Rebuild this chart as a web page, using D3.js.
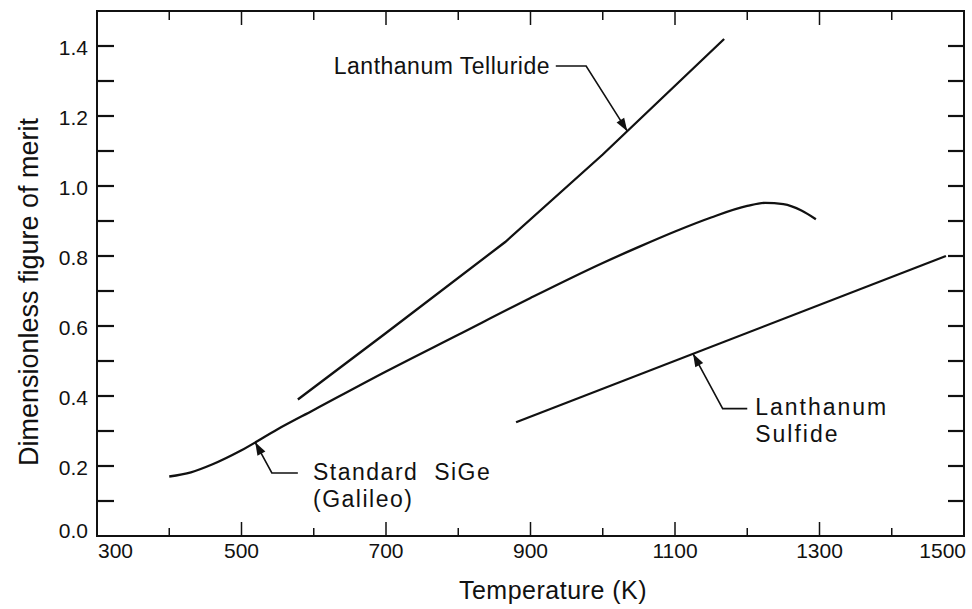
<!DOCTYPE html>
<html>
<head>
<meta charset="utf-8">
<script src="https://cdn.jsdelivr.net/npm/d3@7"></script>
<style>
  body { margin: 0; background: #fff; }
  text { font-family: "Liberation Sans", Arial, sans-serif; fill: #111; }
</style>
</head>
<body>
<div id="chart"></div>
<script>
// values
const siGeTemp = [400, 430, 460, 500, 550, 600, 700, 800, 900, 1000, 1050, 1100, 1150, 1200, 1225, 1250, 1275, 1295];
const siGeZT   = [0.17, 0.182, 0.205, 0.245, 0.305, 0.36, 0.47, 0.575, 0.68, 0.78, 0.826, 0.87, 0.91, 0.943, 0.952, 0.948, 0.93, 0.905];

const laTeTemp = [578, 700, 865, 1000, 1168];
const laTeZT   = [0.39, 0.58, 0.84, 1.09, 1.42];

const laSTemp = [880, 1475];
const laSZT   = [0.325, 0.80];

const xTicks  = d3.range(300, 1501, 100);
const xLabels = [300, 500, 700, 900, 1100, 1300, 1500];
const yTicks  = d3.range(0, 15).map(i => i / 10);
const yLabels = [0.0, 0.2, 0.4, 0.6, 0.8, 1.0, 1.2, 1.4];

const width = 972, height = 609;

const svg = d3.select("#chart").append("svg")
  .attr("width", width)
  .attr("height", height);

const x = d3.scaleLinear().domain([300, 1500]).range([97, 964]);
const y = d3.scaleLinear().domain([0, 1.5]).range([536, 11]);

// frame
svg.append("rect")
  .attr("x", x(300)).attr("y", y(1.5))
  .attr("width", x(1500) - x(300)).attr("height", y(0) - y(1.5))
  .attr("fill", "none").attr("stroke", "#111").attr("stroke-width", 2);

// y ticks on both sides, pointing in
const yt = svg.append("g").attr("stroke", "#111").attr("stroke-width", 2.2);
yt.selectAll(".yl").data(yTicks.slice(1)).join("line").attr("class", "yl")
  .attr("x1", x(300)).attr("x2", x(300) + 17)
  .attr("y1", d => y(d)).attr("y2", d => y(d));
yt.selectAll(".yr").data(yTicks.slice(1)).join("line").attr("class", "yr")
  .attr("x1", x(1500)).attr("x2", x(1500) - 16)
  .attr("y1", d => y(d)).attr("y2", d => y(d));

// x ticks on bottom and top, pointing in
const isMajor = d => xLabels.includes(d);
const xt = svg.append("g").attr("stroke", "#111").attr("stroke-width", 1.5);
xt.selectAll(".xb").data(xTicks.slice(1, -1)).join("line").attr("class", "xb")
  .attr("x1", d => x(d)).attr("x2", d => x(d))
  .attr("y1", y(0)).attr("y2", d => y(0) - (isMajor(d) ? 14 : 8));
xt.selectAll(".xt").data(xTicks.slice(1, -1)).join("line").attr("class", "xt")
  .attr("x1", d => x(d)).attr("x2", d => x(d))
  .attr("y1", y(1.5)).attr("y2", d => y(1.5) + (isMajor(d) ? 14 : 9));

// tick labels
svg.selectAll(".ylab").data(yLabels).join("text").attr("class", "ylab")
  .attr("x", 88)
  .attr("y", d => y(d) + (d === 0 ? -6 : 1))
  .attr("dy", "0.36em")
  .attr("text-anchor", "end")
  .attr("font-size", 21)
  .text(d => d.toFixed(1));

svg.selectAll(".xlab").data(xLabels).join("text").attr("class", "xlab")
  .attr("x", d => d === 300 ? x(d) + 1 : d === 1500 ? x(d) + 2 : x(d))
  .attr("y", 558)
  .attr("text-anchor", d => d === 300 ? "start" : d === 1500 ? "end" : "middle")
  .attr("font-size", 21)
  .text(d => d);

// axis titles
svg.append("text")
  .attr("transform", "translate(38, 292) rotate(-90)")
  .attr("text-anchor", "middle")
  .attr("font-size", 27)
  .text("Dimensionless figure of merit");

svg.append("text")
  .attr("x", 553).attr("y", 599)
  .attr("text-anchor", "middle")
  .attr("font-size", 25)
  .attr("letter-spacing", 0.5)
  .text("Temperature (K)");

// curves
const line = d3.line().x(d => x(d[0])).y(d => y(d[1]));
const series = [
  { pts: d3.zip(siGeTemp, siGeZT), curve: d3.curveMonotoneX },
  { pts: d3.zip(laTeTemp, laTeZT), curve: d3.curveLinear },
  { pts: d3.zip(laSTemp, laSZT), curve: d3.curveLinear }
];
svg.selectAll(".curve").data(series).join("path").attr("class", "curve")
  .attr("fill", "none").attr("stroke", "#111").attr("stroke-width", 2.3)
  .attr("d", d => line.curve(d.curve)(d.pts));

// annotations: text, short dash, leader to an arrow on the curve
const valueAt = (ts, vs, t) => {
  const i = Math.max(1, d3.bisectLeft(ts, t));
  const k = (t - ts[i - 1]) / (ts[i] - ts[i - 1]);
  return vs[i - 1] + k * (vs[i] - vs[i - 1]);
};

const notes = [
  { lines: ["Lanthanum Telluride"], anchor: "end", textAt: [927, 1.343], dash: [[935, 1.343], [977, 1.343]],
    tip: [1034, valueAt(laTeTemp, laTeZT, 1034)], spacing: 0.5 },
  { lines: ["Standard  SiGe", "(Galileo)"], anchor: "start", textAt: [599, 0.183], dash: [[578, 0.18], [542, 0.18]],
    tip: [519, valueAt(siGeTemp, siGeZT, 519)], spacing: 1.5 },
  { lines: ["Lanthanum", "Sulfide"], anchor: "start", textAt: [1211, 0.369], dash: [[1200, 0.364], [1166, 0.364]],
    tip: [1125, valueAt(laSTemp, laSZT, 1125)], spacing: 2 }
];

notes.forEach(n => {
  const pts = [...n.dash, n.tip].map(p => [x(p[0]), y(p[1])]);
  svg.append("path")
    .attr("fill", "none").attr("stroke", "#111").attr("stroke-width", 1.6)
    .attr("d", d3.line()(pts));
  // arrow head
  const [a, b] = pts.slice(-2);
  const ang = Math.atan2(b[1] - a[1], b[0] - a[0]);
  const L = 13, W = 4.5;
  const head = [
    b,
    [b[0] - L * Math.cos(ang) + W * Math.sin(ang), b[1] - L * Math.sin(ang) - W * Math.cos(ang)],
    [b[0] - L * Math.cos(ang) - W * Math.sin(ang), b[1] - L * Math.sin(ang) + W * Math.cos(ang)]
  ];
  svg.append("path").attr("fill", "#111").attr("d", d3.line()(head) + "Z");

  const t = svg.append("text")
    .attr("x", x(n.textAt[0])).attr("y", y(n.textAt[1]))
    .attr("text-anchor", n.anchor)
    .attr("font-size", 23)
    .attr("letter-spacing", n.spacing);
  n.lines.forEach((s, i) => {
    t.append("tspan")
      .attr("x", x(n.textAt[0]))
      .attr("dy", i === 0 ? "0.36em" : "1.15em")
      .style("white-space", "pre")
      .text(s);
  });
});
</script>
</body>
</html>
